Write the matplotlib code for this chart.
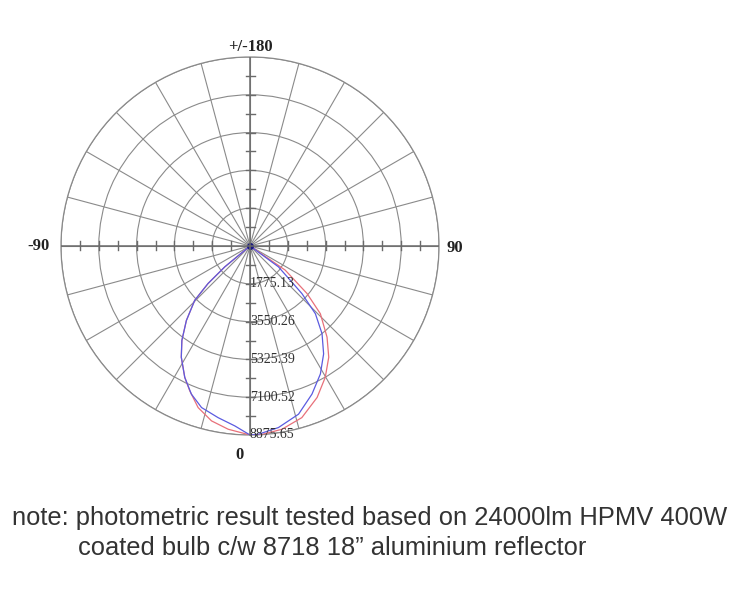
import numpy as np
import matplotlib
matplotlib.use("Agg")
import matplotlib.pyplot as plt

# ---- data ----
ring_values = [1775.13, 3550.26, 5325.39, 7100.52, 8875.65]
direction_labels = ["0", "90", "+/-180", "-90"]

blue_angles = [-60, -50.4, -48.2, -45.5, -40.5, -35.8, -31.7, -26.4, -21.6, -16.7,
               -10.5, -4.8, 0, 2.5, 8.9, 16.1, 22.7, 28.8, 34.3, 39.4, 44.0, 47.5, 53.8, 60]
blue_values = [0, 1534, 2640, 3640, 4600, 5470, 6140, 6890, 7480, 7920,
               8200, 8480, 8875, 8850, 8630, 8220, 7540, 6860, 6135, 5330, 4420, 3305, 1655, 0]

red_angles = [-60, -50.4, -48.2, -45.5, -40.5, -35.8, -31.7, -26.4, -22.6, -17.8,
              -12.4, -6.8, 0, 3.6, 9.9, 16.8, 23.9, 29.8, 35.3, 40.2, 46.1, 50.2, 55.6, 60]
red_values = [0, 1534, 2640, 3640, 4600, 5470, 6140, 6890, 7365, 7970,
              8410, 8665, 8875, 8870, 8735, 8420, 7780, 7110, 6400, 5605, 4585, 3485, 2000, 0]

R = ring_values[-1]
W, H = 753, 603
fig = plt.figure(figsize=(W / 100, H / 100), dpi=100)

cx, cy, rad = 250, 246, 189
rect = [(cx - rad) / W, (H - cy - rad) / H, 2 * rad / W, 2 * rad / H]

ax = fig.add_axes(rect, projection="polar")
ax.set_theta_zero_location("S")
ax.set_theta_direction(1)
ax.set_ylim(0, R)
ax.set_rgrids(ring_values, labels=[])
ax.set_thetagrids(np.arange(0, 360, 15), labels=[])
ax.grid(True, color="#8a8a8a", lw=0.8)
ax.spines["polar"].set_color("#8a8a8a")
ax.spines["polar"].set_linewidth(0.9)
ax.tick_params(length=0)

ax.plot(np.deg2rad(red_angles), red_values, color="#e8707a", lw=0.9, zorder=5)
ax.plot(np.deg2rad(blue_angles), blue_values, color="#5b5be0", lw=0.9, zorder=6)
ax.plot([0], [0], "o", color="#1a1a80", ms=4, zorder=7)

for v in ring_values:
    ax.text(0, v, f"{v:.2f}", ha="left", va="center", fontsize=10,
            family="Liberation Serif", color="#333333", zorder=8)

# overlay for the two axis lines and their ticks
ov = fig.add_axes(rect)
ov.set_xlim(-R, R)
ov.set_ylim(-R, R)
ov.axis("off")
axis_col = "#6a6a6a"
ov.plot([-R, R], [0, 0], color=axis_col, lw=1.1)
ov.plot([0, 0], [-R, R], color=axis_col, lw=1.1)
step = R / 10
tl = 4.5 / rad * R
for k in range(1, 10):
    for s in (-1, 1):
        p = s * k * step
        ov.plot([p, p], [-tl, tl], color=axis_col, lw=1.0)
        ov.plot([-tl, tl], [p, p], color=axis_col, lw=1.0)

lab_kw = dict(fontsize=12, fontweight="bold", family="Liberation Serif", color="#222222")
fig.text(239 / W, 1 - 455 / H, direction_labels[0], ha="center", va="center", **lab_kw)
fig.text(455 / W, 1 - 248 / H, direction_labels[1], ha="center", va="center", **lab_kw)
fig.text(250 / W, 1 - 47 / H, direction_labels[2], ha="center", va="center", **lab_kw)
fig.text(38 / W, 1 - 246 / H, direction_labels[3], ha="center", va="center", **lab_kw)

note_kw = dict(fontsize=18.4, family="Liberation Sans", color="#333333", va="center", ha="left")
fig.text(12 / W, 1 - 518 / H, "note: photometric result tested based on 24000lm HPMV 400W", **note_kw)
fig.text(78 / W, 1 - 548 / H, "coated bulb c/w 8718 18\u201d aluminium reflector", **note_kw)

fig.savefig("out.png", dpi=100, facecolor="white")
